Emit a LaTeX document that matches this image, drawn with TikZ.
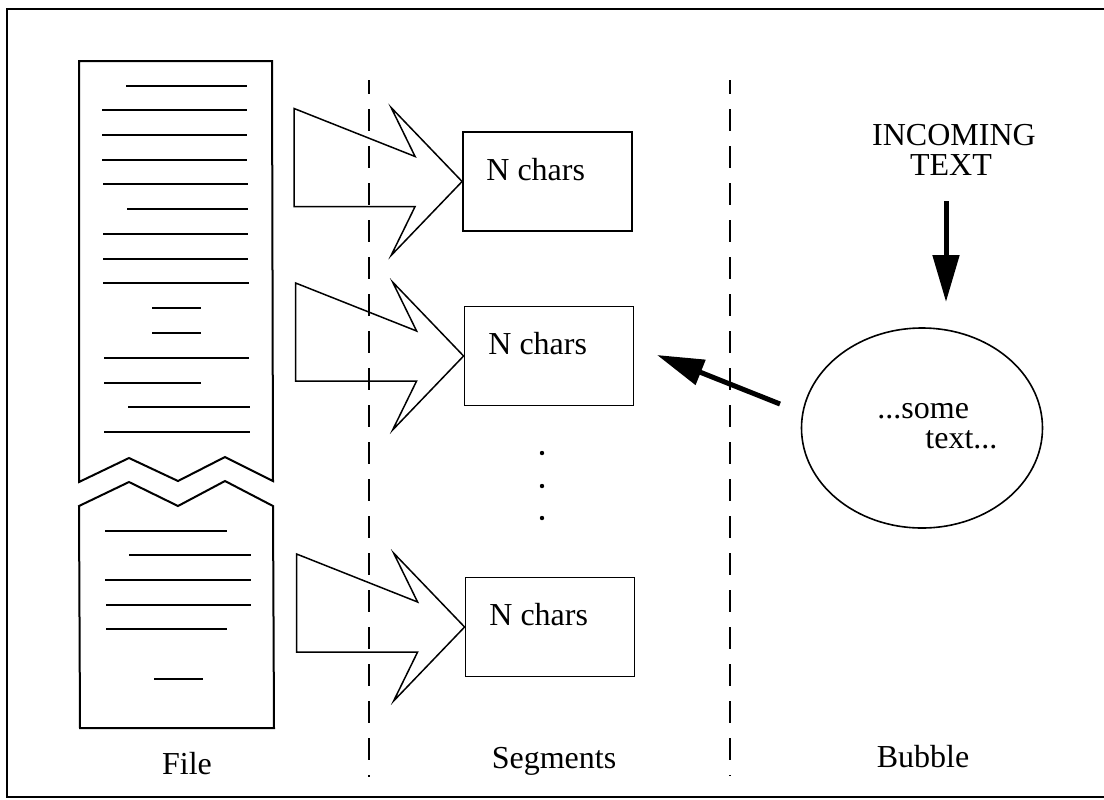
\documentclass[tikz,border=0pt]{standalone}
\usepackage{fontspec}
\setmainfont{Liberation Serif}
\usetikzlibrary{arrows.meta,shapes.geometric,calc}
\begin{document}
\begin{tikzpicture}[x=0.5pt,y=-0.5pt,
  font=\fontsize{16}{19}\selectfont,
  every node/.style={inner sep=0pt},
  frameline/.style={line width=0.9pt},
  docshape/.style={draw,line width=1pt,line join=miter},
  txtline/.style={line width=1pt},
  segbox/.style={draw,line width=0.9pt,minimum width=84.5pt,minimum height=49.5pt},
  blockarrow/.style={draw,line width=0.75pt,line join=miter},
  divider/.style={line width=0.8pt,dash pattern=on 11pt off 7.5pt,dash phase=4pt},
  bigarrow/.style={line width=2.5pt,-{Triangle[length=23.5pt,width=13pt]}},
  bubbleshape/.style={draw,ellipse,line width=0.8pt,minimum width=120.5pt,minimum height=100pt},
  label/.style={anchor=base},
]
\useasboundingbox (0,0) rectangle (1104,799);

% outer frame
\draw[frameline] (1104,9) -- (7,9) -- (7,797) -- (1104,797);

% file document: upper piece and lower piece
\draw[docshape] (79,61) -- (272,61) -- (273,481) -- (225,457) -- (178,481) -- (129,458) -- (79,482) -- cycle;
\draw[docshape] (79,506) -- (129,482) -- (178,506) -- (225,481) -- (273,506) -- (274,728) -- (80,728) -- cycle;

% text lines of the file
\foreach \a/\b/\y in {126/247/86, 102/247/110, 102/247/135, 102/247/160, 103/248/184,
  127/248/209, 103/248/234, 103/248/259, 103/249/283, 152/201/308, 152/201/333,
  104/249/358, 104/201/383, 128/250/407, 104/250/432,
  105/227/531, 129/251/555, 105/251/580, 106/251/605, 106/227/629, 154/203/679}
  \draw[txtline] (\a,\y) -- (\b,\y);

% dividers
\coordinate (d1top) at (369,80);
\coordinate (d1bot) at (369,777);
\coordinate (d2top) at (730,80);
\coordinate (d2bot) at (730,776);
\draw[divider] (d1top) -- (d1bot);
\draw[divider] (d2top) -- (d2bot);

% segment boxes
\node[segbox] (s1) at (547.5,181.5) {};
\node[segbox] (s2) at (549,356) {};
\node[segbox] (s3) at (550,627) {};
\node[anchor=base west] (t1) at (486,180) {N chars};
\node[anchor=base west] (t2) at (488,354) {N chars};
\node[anchor=base west] (t3) at (489,625) {N chars};

% block arrows into the boxes
\foreach \s in {s1,s2,s3}{
  \begin{scope}[shift={(\s.west)}]
    \draw[blockarrow] (-168,-73) -- (-47,-25) -- (-71,-74) -- (0,0) -- (-71,74) -- (-47,25) -- (-168,25) -- cycle;
  \end{scope}
}

% dots
\foreach \y [count=\i] in {453,486,518}
  \fill (542,\y) circle (1.1pt) coordinate (dot\i);

% bubble
\node[bubbleshape] (bubble) at (922,428) {};
\node[anchor=base west] (bt1) at (877,418) {...some};
\node[anchor=base west] (bt2) at (925,448) {text...};

% incoming text
\node[label] (incoming1) at (954,145) {INCOMING};
\node[label] (incoming2) at (951,175) {TEXT};
\coordinate (inTop) at (946,201);
\coordinate (inTip) at (946,302);
\draw[bigarrow] (inTop) -- (inTip);

% arrow from bubble to segments
\coordinate (lTail) at (780,404);
\coordinate (lTip) at (657,355);
\draw[bigarrow] (lTail) -- (lTip);

% column labels
\node[label] (lfile) at (187,774) {File};
\node[label] (lseg) at (554,768) {Segments};
\node[label] (lbub) at (923,767) {Bubble};
\end{tikzpicture}
\end{document}
